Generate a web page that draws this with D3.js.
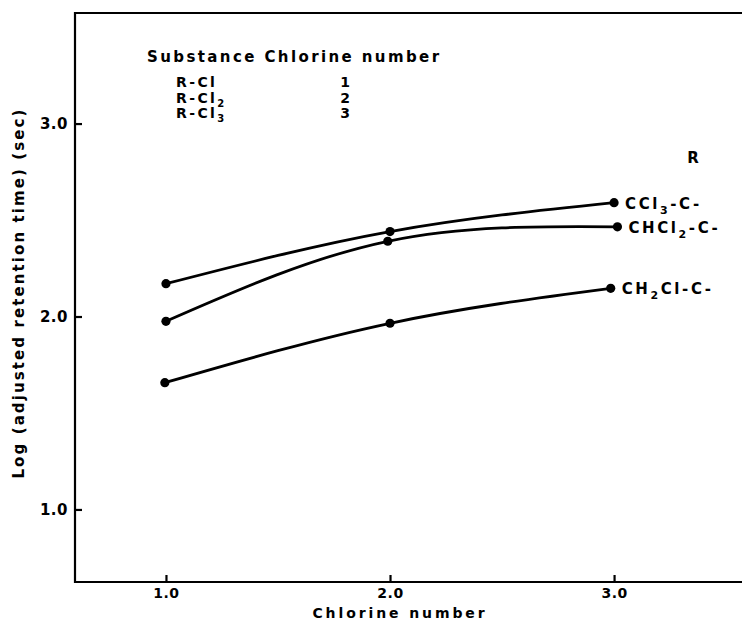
<!DOCTYPE html>
<html>
<head>
<meta charset="utf-8">
<script src="https://cdn.jsdelivr.net/npm/d3@7"></script>
<style>
  body { margin: 0; background: #fff; }
  svg { display: block; }
  text { font-family: "DejaVu Sans", sans-serif; font-weight: bold; fill: #000; }
</style>
</head>
<body>
<script>
const width = 742;
const height = 621;

// data
const ccl3X = [1.0, 2.0, 3.0];
const ccl3Y = [2.17, 2.44, 2.59];
const chcl2X = [1.0, 1.99, 3.015];
const chcl2Y = [1.975, 2.39, 2.465];
const ch2clX = [0.995, 2.0, 2.985];
const ch2clY = [1.657, 1.965, 2.146];

const seriesNames = [["CCl", "3", "-C-"], ["CHCl", "2", "-C-"], ["CH", "2", "Cl-C-"]];
const xTicks = [1.0, 2.0, 3.0];
const yTicks = [1.0, 2.0, 3.0];

const tableSubst = [["R-Cl", ""], ["R-Cl", "2"], ["R-Cl", "3"]];
const tableNumber = ["1", "2", "3"];

const svg = d3.select("body").append("svg").attr("width", width).attr("height", height);

// scales
const x = d3.scaleLinear().domain([0.594, 3.571]).range([75, 742]);
const y = d3.scaleLinear().domain([0.624, 3.573]).range([582, 13]);

// frame (no right side, the figure is cut there)
svg.append("path")
    .attr("d", "M742," + y.range()[1] + "H" + x.range()[0] + "V" + y.range()[0] + "H742")
    .attr("fill", "none")
    .attr("stroke", "#000")
    .attr("stroke-width", 2.2);

// axes
const yAxis = svg.append("g")
    .attr("transform", "translate(" + x.range()[0] + ",0)")
    .call(d3.axisLeft(y).tickValues(yTicks).tickSizeInner(-7).tickSizeOuter(0).tickPadding(7).tickFormat(d3.format(".1f")));
const xAxis = svg.append("g")
    .attr("transform", "translate(0," + y.range()[0] + ")")
    .call(d3.axisBottom(x).tickValues(xTicks).tickSizeInner(-7).tickSizeOuter(0).tickPadding(6).tickFormat(d3.format(".1f")));

[yAxis, xAxis].forEach(a => {
    a.select(".domain").remove();
    a.selectAll("line").attr("stroke", "#000").attr("stroke-width", 2.2);
    a.selectAll("text")
        .attr("font-family", "DejaVu Sans")
        .attr("font-weight", "bold")
        .attr("font-size", "15px")
        .attr("letter-spacing", "0.5px")
        .attr("fill", "#000");
});
xAxis.selectAll("text").attr("font-size", "14px");

// axis titles
svg.append("text")
    .attr("x", 400)
    .attr("y", 618)
    .attr("text-anchor", "middle")
    .attr("font-size", "14px")
    .attr("letter-spacing", "2.9px")
    .text("Chlorine number");

svg.append("text")
    .attr("transform", "translate(24,293) rotate(-90)")
    .attr("text-anchor", "middle")
    .attr("font-size", "15px")
    .attr("letter-spacing", "2.1px")
    .text("Log (adjusted retention time) (sec)");

// curves
const line = d3.line()
    .x(d => x(d[0]))
    .y(d => y(d[1]))
    .curve(d3.curveNatural);

const series = [
    d3.zip(ccl3X, ccl3Y),
    d3.zip(chcl2X, chcl2Y),
    d3.zip(ch2clX, ch2clY)
];

series.forEach((pts, i) => {
    svg.append("path")
        .datum(pts)
        .attr("d", line)
        .attr("fill", "none")
        .attr("stroke", "#000")
        .attr("stroke-width", 2.8);

    svg.selectAll(".pt" + i)
        .data(pts)
        .enter()
        .append("circle")
        .attr("class", "pt" + i)
        .attr("cx", d => x(d[0]))
        .attr("cy", d => y(d[1]))
        .attr("r", 4.6)
        .attr("fill", "#000");

    // label at right end
    const last = pts[pts.length - 1];
    const lab = svg.append("text")
        .attr("x", x(last[0]) + 11)
        .attr("y", y(last[1]) + 6)
        .attr("font-size", "15px")
        .attr("letter-spacing", "2.6px");
    lab.append("tspan").text(seriesNames[i][0]);
    lab.append("tspan").attr("dy", 5).attr("font-size", "11px").text(seriesNames[i][1]);
    lab.append("tspan").attr("dy", -5).text(seriesNames[i][2]);
});

svg.append("text")
    .attr("x", 693)
    .attr("y", 163)
    .attr("text-anchor", "middle")
    .attr("font-size", "15px")
    .text("R");

// table at top left
svg.append("text")
    .attr("x", 147)
    .attr("y", 62)
    .attr("font-size", "15px")
    .attr("letter-spacing", "2.4px")
    .text("Substance Chlorine number");

tableSubst.forEach((s, i) => {
    const t = svg.append("text")
        .attr("x", 176)
        .attr("y", 87 + i * 15.5)
        .attr("font-size", "14px")
        .attr("letter-spacing", "2.4px");
    t.append("tspan").text(s[0]);
    if (s[1]) t.append("tspan").attr("dy", 4).attr("font-size", "10px").text(s[1]);

    svg.append("text")
        .attr("x", 345)
        .attr("y", 87 + i * 15.5)
        .attr("text-anchor", "middle")
        .attr("font-size", "14px")
        .text(tableNumber[i]);
});
</script>
</body>
</html>
